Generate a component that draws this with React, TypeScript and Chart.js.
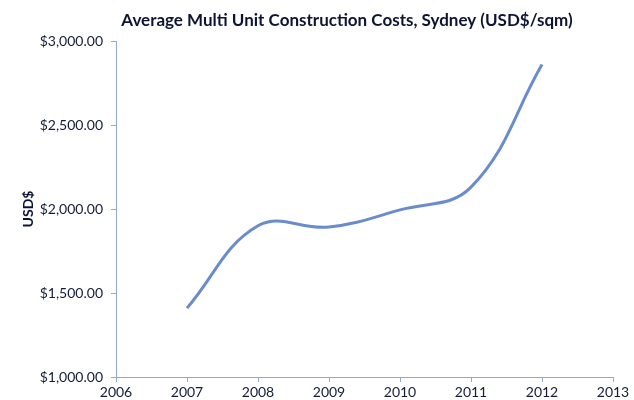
import React, { useEffect, useRef } from "react";
import { Chart, registerables } from "chart.js";

Chart.register(...registerables);

const years = [2007, 2008, 2009, 2010, 2011, 2012];
const costs = [1410, 1900, 1893, 1995, 2130, 2860];
const xTickLabels = ["2006", "2007", "2008", "2009", "2010", "2011", "2012", "2013"];
const yTickValues = [1000, 1500, 2000, 2500, 3000];
const chartTitle = "Average Multi Unit Construction Costs, Sydney (USD$/sqm)";
const yAxisTitle = "USD$";

const TEXT = "#141b38";
const AXIS = "#8eaadb";
const LINE = "#6a8ccc";
const FONT = "Lato, 'Open Sans', sans-serif";

export default function App() {
  const ref = useRef<HTMLCanvasElement>(null);
  useEffect(() => {
    document.body.style.margin = "0";
    const canvas = ref.current!;
    const titlePlugin = {
      id: "customTitle",
      afterDraw(chart: any) {
        const ctx = chart.ctx;
        ctx.save();
        ctx.font = `bold 17px ${FONT}`;
        ctx.fillStyle = "#0d1433";
        ctx.textAlign = "center";
        ctx.textBaseline = "middle";
        ctx.fillText(chartTitle, 347, 21);
        ctx.restore();
      },
    };
    const chart = new Chart(canvas, {
      type: "line",
      data: {
        datasets: [
          {
            data: years.map((y, i) => ({ x: y, y: costs[i] })),
            borderColor: LINE,
            borderWidth: 3,
            pointRadius: 0,
            tension: 0.4,
            fill: false,
          },
        ],
      },
      options: {
        animation: false,
        responsive: false,
        layout: { padding: { top: 41, right: 21, left: 0, bottom: 0 } },
        plugins: { legend: { display: false }, tooltip: { enabled: false }, title: { display: false } },
        scales: {
          x: {
            type: "linear",
            min: 2006,
            max: 2013,
            afterFit: (s: any) => { s.height = 23; },
            ticks: {
              stepSize: 1,
              color: TEXT,
              font: { family: FONT, size: 14 },
              padding: 2,
              maxRotation: 0,
              callback: (v: any) => xTickLabels[Math.round(v - 2006)] ?? "",
            },
            grid: { display: true, drawOnChartArea: false, drawTicks: true, tickLength: 5, color: AXIS },
            border: { display: true, color: AXIS, width: 1 },
          },
          y: {
            min: 1000,
            max: 3000,
            afterFit: (s: any) => { s.width = 116; },
            afterBuildTicks: (s: any) => { s.ticks = yTickValues.map((v) => ({ value: v })); },
            ticks: {
              color: TEXT,
              font: { family: FONT, size: 14 },
              padding: 8,
              callback: (v: any) =>
                "$" + Number(v).toLocaleString("en-US", { minimumFractionDigits: 2, maximumFractionDigits: 2 }),
            },
            title: {
              display: true,
              text: yAxisTitle,
              color: "#0d1433",
              font: { family: FONT, size: 14, weight: "bold" },
              padding: { top: 20, bottom: 0 },
            },
            grid: { display: true, drawOnChartArea: false, drawTicks: true, tickLength: 5, color: AXIS },
            border: { display: true, color: AXIS, width: 1 },
          },
        },
      },
      plugins: [titlePlugin],
    });
    return () => chart.destroy();
  }, []);
  return (
    <div style={{ width: 634, height: 400 }}>
      <canvas ref={ref} width={634} height={400} style={{ display: "block" }} />
    </div>
  );
}
